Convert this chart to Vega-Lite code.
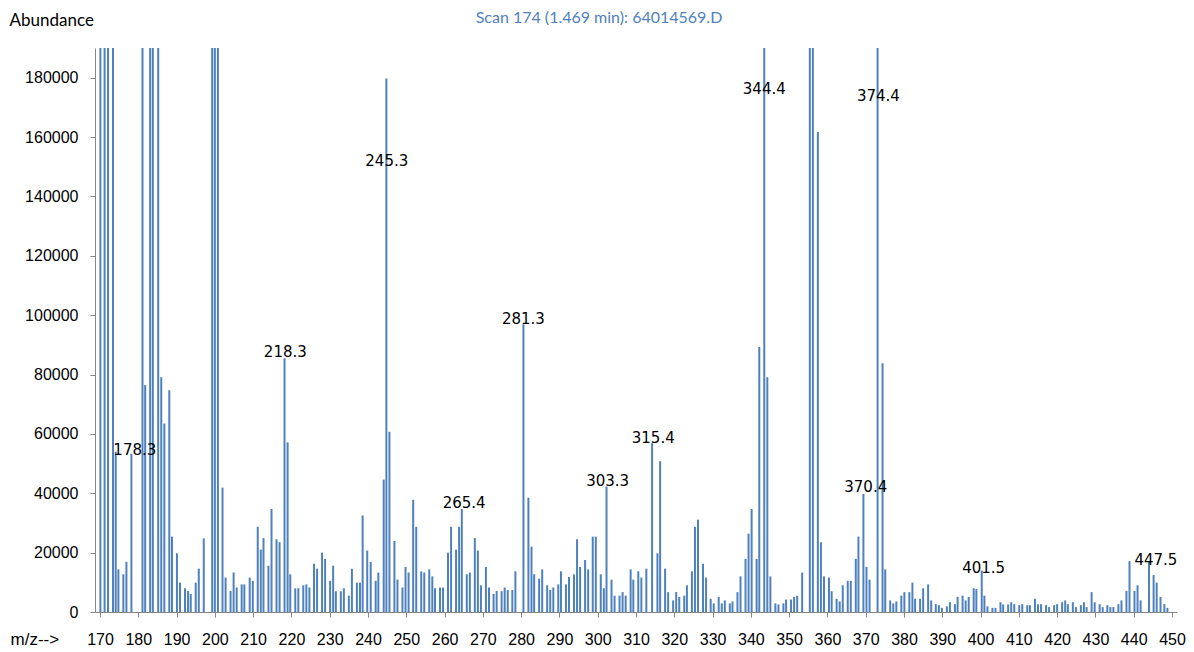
{
  "$schema": "https://vega.github.io/schema/vega-lite/v6.json",
  "width": 1082,
  "height": 564,
  "autosize": {"type": "none"},
  "padding": {"left": 95, "top": 48, "right": 17, "bottom": 40},
  "background": "white",
  "config": {
    "view": {"stroke": null},
    "axis": {"labelOverlap": false, "labelFlush": false, "grid": false, "domainColor": "#868686", "tickColor": "#868686", "tickSize": 5, "labelFont": "Liberation Sans", "labelFontSize": 16, "labelColor": "#000000", "titleFontWeight": "normal", "titleColor": "#000000"},
    "axisX": {"labelPadding": 14},
    "axisY": {"labelPadding": 12}
  },
  "title": {
    "text": "Scan 174 (1.469 min): 64014569.D",
    "color": "#4F81BD",
    "font": "Lato",
    "fontSize": 16,
    "fontWeight": "normal",
    "anchor": "middle",
    "frame": "group",
    "dx": -37,
    "offset": -15
  },
  "datasets": {
    "peaks": [
      {"mz": 170.1, "ab": 250000}, {"mz": 171.2, "ab": 250000}, {"mz": 172.1, "ab": 250000}, {"mz": 173.4, "ab": 250000},
      {"mz": 174.1, "ab": 54000}, {"mz": 174.8, "ab": 14350}, {"mz": 176.1, "ab": 12700}, {"mz": 176.9, "ab": 16900},
      {"mz": 178.2, "ab": 53340}, {"mz": 181.1, "ab": 250000}, {"mz": 181.8, "ab": 76450}, {"mz": 183.1, "ab": 250000},
      {"mz": 183.8, "ab": 250000}, {"mz": 185.2, "ab": 250000}, {"mz": 186.0, "ab": 79100}, {"mz": 186.8, "ab": 63500},
      {"mz": 188.1, "ab": 74700}, {"mz": 188.8, "ab": 25400}, {"mz": 190.1, "ab": 19800}, {"mz": 190.9, "ab": 9900},
      {"mz": 192.2, "ab": 8000}, {"mz": 193.0, "ab": 7100}, {"mz": 193.7, "ab": 6100}, {"mz": 195.0, "ab": 9900},
      {"mz": 195.8, "ab": 14600}, {"mz": 197.1, "ab": 24800}, {"mz": 199.3, "ab": 250000}, {"mz": 200.0, "ab": 250000},
      {"mz": 200.8, "ab": 250000}, {"mz": 202.0, "ab": 41900}, {"mz": 202.8, "ab": 11600}, {"mz": 204.1, "ab": 7100},
      {"mz": 204.9, "ab": 13300}, {"mz": 205.7, "ab": 8250}, {"mz": 207.0, "ab": 9300}, {"mz": 207.7, "ab": 9300},
      {"mz": 209.1, "ab": 11600}, {"mz": 209.9, "ab": 10500}, {"mz": 211.2, "ab": 28700}, {"mz": 212.0, "ab": 21000},
      {"mz": 212.7, "ab": 24900}, {"mz": 214.0, "ab": 15600}, {"mz": 214.8, "ab": 34700}, {"mz": 216.1, "ab": 24500},
      {"mz": 216.9, "ab": 23500}, {"mz": 218.2, "ab": 85500}, {"mz": 219.0, "ab": 57150}, {"mz": 219.7, "ab": 12700},
      {"mz": 221.0, "ab": 8000}, {"mz": 221.8, "ab": 8000}, {"mz": 223.1, "ab": 9000}, {"mz": 223.9, "ab": 9300},
      {"mz": 224.7, "ab": 8250}, {"mz": 225.9, "ab": 16250}, {"mz": 226.7, "ab": 14600}, {"mz": 228.0, "ab": 20000},
      {"mz": 228.8, "ab": 17900}, {"mz": 230.1, "ab": 10500}, {"mz": 230.9, "ab": 15600}, {"mz": 231.6, "ab": 7000},
      {"mz": 232.9, "ab": 7000}, {"mz": 233.7, "ab": 8000}, {"mz": 235.0, "ab": 5500}, {"mz": 235.8, "ab": 14600},
      {"mz": 237.1, "ab": 9900}, {"mz": 237.9, "ab": 9900}, {"mz": 238.6, "ab": 32500}, {"mz": 239.8, "ab": 20700},
      {"mz": 240.7, "ab": 16900}, {"mz": 242.0, "ab": 10500}, {"mz": 242.7, "ab": 13300}, {"mz": 244.1, "ab": 44600},
      {"mz": 244.8, "ab": 179700}, {"mz": 245.6, "ab": 60700}, {"mz": 246.9, "ab": 23900}, {"mz": 247.7, "ab": 10900},
      {"mz": 249.0, "ab": 8250}, {"mz": 249.8, "ab": 15200}, {"mz": 250.6, "ab": 13300}, {"mz": 251.8, "ab": 37800},
      {"mz": 252.6, "ab": 28700}, {"mz": 253.9, "ab": 13700}, {"mz": 254.7, "ab": 13300}, {"mz": 256.0, "ab": 14350},
      {"mz": 256.8, "ab": 12000}, {"mz": 257.5, "ab": 8000}, {"mz": 258.8, "ab": 8250}, {"mz": 259.6, "ab": 8250},
      {"mz": 260.9, "ab": 20000}, {"mz": 261.7, "ab": 28700}, {"mz": 263.0, "ab": 21000}, {"mz": 263.8, "ab": 28700},
      {"mz": 264.5, "ab": 34700}, {"mz": 265.8, "ab": 12700}, {"mz": 266.6, "ab": 13300}, {"mz": 267.9, "ab": 24900},
      {"mz": 268.7, "ab": 20700}, {"mz": 269.5, "ab": 9000}, {"mz": 270.8, "ab": 15200}, {"mz": 271.6, "ab": 8250},
      {"mz": 272.8, "ab": 6100}, {"mz": 273.6, "ab": 7100}, {"mz": 274.9, "ab": 7000}, {"mz": 275.7, "ab": 8250},
      {"mz": 276.5, "ab": 7400}, {"mz": 277.7, "ab": 7400}, {"mz": 278.5, "ab": 13700}, {"mz": 280.6, "ab": 96900},
      {"mz": 281.9, "ab": 38500}, {"mz": 282.7, "ab": 22000}, {"mz": 283.4, "ab": 12700}, {"mz": 284.7, "ab": 11200},
      {"mz": 285.5, "ab": 14350}, {"mz": 286.8, "ab": 9000}, {"mz": 287.6, "ab": 7400}, {"mz": 288.4, "ab": 8250},
      {"mz": 289.7, "ab": 9300}, {"mz": 290.4, "ab": 13700}, {"mz": 291.7, "ab": 9300}, {"mz": 292.5, "ab": 11800},
      {"mz": 293.8, "ab": 12700}, {"mz": 294.6, "ab": 24500}, {"mz": 295.4, "ab": 15200}, {"mz": 296.7, "ab": 17500},
      {"mz": 297.5, "ab": 14350}, {"mz": 298.7, "ab": 25400}, {"mz": 299.5, "ab": 25400}, {"mz": 300.8, "ab": 12700},
      {"mz": 301.6, "ab": 8000}, {"mz": 302.3, "ab": 42300}, {"mz": 303.6, "ab": 10900}, {"mz": 304.4, "ab": 5500},
      {"mz": 305.7, "ab": 5500}, {"mz": 306.5, "ab": 6700}, {"mz": 307.3, "ab": 5500}, {"mz": 308.6, "ab": 14350},
      {"mz": 309.3, "ab": 10900}, {"mz": 310.6, "ab": 13700}, {"mz": 311.4, "ab": 11600}, {"mz": 312.7, "ab": 14600},
      {"mz": 314.2, "ab": 56900}, {"mz": 315.6, "ab": 19800}, {"mz": 316.3, "ab": 50800}, {"mz": 317.6, "ab": 14600},
      {"mz": 318.4, "ab": 6700}, {"mz": 319.7, "ab": 3900}, {"mz": 320.5, "ab": 6700}, {"mz": 321.3, "ab": 5100},
      {"mz": 322.6, "ab": 5500}, {"mz": 323.3, "ab": 9000}, {"mz": 324.6, "ab": 13700}, {"mz": 325.4, "ab": 28700},
      {"mz": 326.2, "ab": 31100}, {"mz": 327.5, "ab": 16250}, {"mz": 328.3, "ab": 11600}, {"mz": 329.5, "ab": 4450},
      {"mz": 330.3, "ab": 2900}, {"mz": 331.6, "ab": 5100}, {"mz": 332.4, "ab": 2900}, {"mz": 333.2, "ab": 3900},
      {"mz": 334.5, "ab": 2900}, {"mz": 335.2, "ab": 3550}, {"mz": 336.5, "ab": 6700}, {"mz": 337.3, "ab": 12000},
      {"mz": 338.6, "ab": 17900}, {"mz": 339.4, "ab": 26400}, {"mz": 340.2, "ab": 34700}, {"mz": 341.5, "ab": 17900},
      {"mz": 342.2, "ab": 89300}, {"mz": 343.5, "ab": 250000}, {"mz": 344.3, "ab": 79100}, {"mz": 345.1, "ab": 12000},
      {"mz": 346.4, "ab": 2900}, {"mz": 347.2, "ab": 2540}, {"mz": 348.5, "ab": 2900}, {"mz": 349.2, "ab": 4200},
      {"mz": 350.5, "ab": 4200}, {"mz": 351.3, "ab": 5100}, {"mz": 352.1, "ab": 5500}, {"mz": 353.4, "ab": 13300},
      {"mz": 355.4, "ab": 250000}, {"mz": 356.2, "ab": 250000}, {"mz": 357.5, "ab": 161700}, {"mz": 358.3, "ab": 23500},
      {"mz": 359.1, "ab": 12000}, {"mz": 360.4, "ab": 11600}, {"mz": 361.1, "ab": 7000}, {"mz": 362.4, "ab": 4450},
      {"mz": 363.2, "ab": 3550}, {"mz": 364.0, "ab": 9000}, {"mz": 365.3, "ab": 10500}, {"mz": 366.1, "ab": 10500},
      {"mz": 367.4, "ab": 17900}, {"mz": 368.1, "ab": 25400}, {"mz": 369.4, "ab": 39750}, {"mz": 370.2, "ab": 15200},
      {"mz": 371.0, "ab": 10900}, {"mz": 373.1, "ab": 250000}, {"mz": 374.4, "ab": 83800}, {"mz": 375.1, "ab": 14350},
      {"mz": 376.4, "ab": 3900}, {"mz": 377.2, "ab": 2900}, {"mz": 378.0, "ab": 3550}, {"mz": 379.3, "ab": 5500},
      {"mz": 380.1, "ab": 6700}, {"mz": 381.4, "ab": 6700}, {"mz": 382.2, "ab": 9900}, {"mz": 382.9, "ab": 4450},
      {"mz": 384.2, "ab": 4450}, {"mz": 385.0, "ab": 8000}, {"mz": 386.3, "ab": 9300}, {"mz": 387.1, "ab": 3900},
      {"mz": 388.3, "ab": 2650}, {"mz": 389.1, "ab": 2300}, {"mz": 389.9, "ab": 1400}, {"mz": 391.2, "ab": 1900},
      {"mz": 392.0, "ab": 3300}, {"mz": 393.3, "ab": 2650}, {"mz": 394.0, "ab": 5100}, {"mz": 395.3, "ab": 5500},
      {"mz": 396.1, "ab": 3900}, {"mz": 396.9, "ab": 5100}, {"mz": 398.2, "ab": 8000}, {"mz": 398.9, "ab": 7750},
      {"mz": 400.3, "ab": 14000}, {"mz": 401.0, "ab": 5500}, {"mz": 401.8, "ab": 1900}, {"mz": 403.1, "ab": 1400},
      {"mz": 403.9, "ab": 1400}, {"mz": 405.2, "ab": 3300}, {"mz": 405.9, "ab": 2540}, {"mz": 407.2, "ab": 2540},
      {"mz": 408.0, "ab": 3300}, {"mz": 408.8, "ab": 2650}, {"mz": 410.1, "ab": 2300}, {"mz": 410.9, "ab": 2650},
      {"mz": 412.2, "ab": 2300}, {"mz": 412.9, "ab": 2300}, {"mz": 414.2, "ab": 4450}, {"mz": 415.0, "ab": 2650},
      {"mz": 415.8, "ab": 2650}, {"mz": 417.1, "ab": 2300}, {"mz": 417.9, "ab": 1650}, {"mz": 419.2, "ab": 2300},
      {"mz": 420.0, "ab": 2650}, {"mz": 421.3, "ab": 3300}, {"mz": 422.1, "ab": 3900}, {"mz": 422.8, "ab": 2650},
      {"mz": 424.1, "ab": 3300}, {"mz": 424.9, "ab": 1650}, {"mz": 426.2, "ab": 2300}, {"mz": 427.0, "ab": 3300},
      {"mz": 427.7, "ab": 1650}, {"mz": 429.0, "ab": 6700}, {"mz": 429.8, "ab": 3300}, {"mz": 431.1, "ab": 2650},
      {"mz": 431.9, "ab": 1650}, {"mz": 433.1, "ab": 2300}, {"mz": 433.9, "ab": 1650}, {"mz": 434.7, "ab": 1650},
      {"mz": 436.0, "ab": 2650}, {"mz": 436.8, "ab": 3900}, {"mz": 438.1, "ab": 7100}, {"mz": 438.9, "ab": 17150},
      {"mz": 440.2, "ab": 7100}, {"mz": 441.0, "ab": 9000}, {"mz": 441.8, "ab": 3900}, {"mz": 444.0, "ab": 16900},
      {"mz": 445.2, "ab": 12450}, {"mz": 446.0, "ab": 9900}, {"mz": 447.0, "ab": 5100}, {"mz": 448.0, "ab": 2650},
      {"mz": 448.8, "ab": 1400}
    ],
    "labels": [
      {"lx": 179.1, "ly": 54600, "label": "178.3"},
      {"lx": 218.4, "ly": 87700, "label": "218.3"},
      {"lx": 244.9, "ly": 151800, "label": "245.3"},
      {"lx": 265.1, "ly": 36800, "label": "265.4"},
      {"lx": 280.6, "ly": 98800, "label": "281.3"},
      {"lx": 302.6, "ly": 44200, "label": "303.3"},
      {"lx": 314.5, "ly": 58700, "label": "315.4"},
      {"lx": 343.5, "ly": 176100, "label": "344.4"},
      {"lx": 370.0, "ly": 42200, "label": "370.4"},
      {"lx": 373.3, "ly": 173700, "label": "374.4"},
      {"lx": 400.8, "ly": 14800, "label": "401.5"},
      {"lx": 445.8, "ly": 17500, "label": "447.5"}
    ]
  },
  "encoding": {
    "x": {
      "type": "quantitative",
      "scale": {"domain": [170, 450], "nice": false, "zero": false},
      "axis": {
        "values": [170,180,190,200,210,220,230,240,250,260,270,280,290,300,310,320,330,340,350,360,370,380,390,400,410,420,430,440,450],
        "format": "d",
        "labelOverlap": false,
        "title": "m/z-->",
        "titleFont": "Liberation Sans",
        "titleFontSize": 17,
        "titleAnchor": null,
        "titleAlign": "left",
        "titleBaseline": "middle",
        "titleX": -85,
        "titleY": 27
      }
    },
    "y": {
      "type": "quantitative",
      "scale": {"domain": [0, 190000], "nice": false},
      "axis": {
        "values": [0,20000,40000,60000,80000,100000,120000,140000,160000,180000],
        "format": "d",
        "labelOverlap": false,
        "title": "Abundance",
        "titleFont": "Lato",
        "titleFontSize": 17,
        "titleAngle": 0,
        "titleAnchor": null,
        "titleAlign": "left",
        "titleBaseline": "middle",
        "titleX": -86,
        "titleY": -28
      }
    }
  },
  "layer": [
    {
      "data": {"name": "peaks"},
      "mark": {"type": "bar", "size": 2, "color": "#4F81BD", "clip": true},
      "encoding": {
        "x": {"field": "mz"},
        "y": {"field": "ab"}
      }
    },
    {
      "data": {"name": "labels"},
      "mark": {"type": "text", "font": "DejaVu Sans", "fontSize": 15, "color": "#000000", "baseline": "middle", "align": "center"},
      "encoding": {
        "x": {"field": "lx"},
        "y": {"field": "ly"},
        "text": {"field": "label"}
      }
    }
  ]
}
